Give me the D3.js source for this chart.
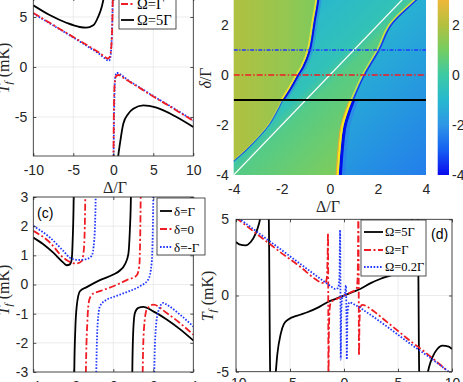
<!DOCTYPE html>
<html>
<head>
<meta charset="utf-8">
<script src="https://cdn.jsdelivr.net/npm/d3@7"></script>
<style>
  body { margin: 0; background: #fff; }
</style>
</head>
<body>
<script>
// ---------- data: panel (a), T_f (mK) vs Δ/Γ, branches split at the poles ----------
const aXTicks = [-10, -5, 0, 5, 10];
const aYTicks = [-5, 0, 5];
const aBlue = [
  [[-10, 5.35], [-7.5, 4.15], [-5, 2.95], [-3, 1.95], [-2, 1.45], [-1.2, 0.95], [-0.8, 0.7], [-0.55, 0.62], [-0.4, 0.85], [-0.25, 2], [-0.12, 5], [-0.03, 9.5]],
  [[0.03, -9.5], [0.12, -4], [0.22, -1.2], [0.4, -0.6], [0.6, -0.6], [1, -0.8], [2, -1.4], [3, -1.9], [5, -2.9], [7.5, -4.1], [10, -5.35]]
];
const aRed = [
  [[-10, 5.4], [-7.5, 4.2], [-5, 3.0], [-3, 2.05], [-2, 1.55], [-1.2, 1.1], [-0.7, 0.85], [-0.45, 1.0], [-0.3, 1.6], [-0.18, 3], [-0.08, 6], [-0.02, 9.5]],
  [[0.02, -9.5], [0.08, -4], [0.18, -1.6], [0.35, -0.9], [0.7, -0.8], [1.2, -1.05], [2, -1.45], [3, -1.95], [5, -2.95], [7.5, -4.15], [10, -5.4]]
];
const aBlack = [
  [[-10, 6.17], [-7.9, 5.17], [-5.8, 4.4], [-4.2, 4.0], [-3.4, 3.93], [-2.5, 4.17], [-1.9, 5.0], [-1.45, 6.0], [-1.2, 6.9], [-1.0, 8]],
  [[0.5, -10], [0.62, -8.9], [0.83, -7.67], [1.25, -5.67], [1.875, -4.67], [2.5, -4.17], [3.75, -3.83], [5.4, -4.07], [7.9, -5.0], [10, -6.0]]
];
const aLabels = ['\u03a9=0.2\u0393', '\u03a9=\u0393', '\u03a9=5\u0393'];

// ---------- data: panel (b), map of T_f over (Δ/Γ, δ/Γ) ----------
const bXTicks = [-4, -2, 0, 2, 4];
const bYTicks = [-4, -2, 0, 2];
const cbTicks = [-4, -2, 0, 2];
// resonance curves [Δ, δ], top to bottom
const bLeft = [[-0.42, 4.3], [-0.53, 3], [-0.67, 2.2], [-0.88, 1], [-1.15, 0.33], [-1.36, 0], [-1.65, -0.5], [-1.98, -1], [-2.55, -2], [-3.5, -3], [-4.1, -3.5]];
const bRight = [[4.3, 3.7], [3.55, 3], [2.5, 2], [2.0, 1], [1.39, 0], [0.92, -1], [0.57, -2], [0.44, -3], [0.36, -4.05], [0.34, -4.3]];
const bDiagonal = [[-4, -4], [4, 4]];
const bCuts = [1, 0, -1];
// field levels: left region along Δ, middle and right regions along u = Δ-δ
const fieldLeft = [[-4, 1.95], [-2, 1.55], [-0.4, 1.15]];
const fieldMiddle = [[-4, -1.05], [-0.4, -0.45], [0.4, 0.45], [4, 1.1]];
const fieldRight = [[0, -1.15], [8, -2.45]];
const cmapValues = [-4, -3, -2, -1, 0, 1, 2, 3, 4];
const cmapColors = ['#0b0bef', '#1560f2', '#2e96e6', '#27b8cf', '#3ccaa4', '#74cd62', '#b3c03f', '#efb83a', '#f9e024'];

// ---------- data: panel (c) ----------
const cXTicks = [-4, -2, 0, 2, 4];
const cYTicks = [-3, -2, -1, 0, 1, 2, 3];
const cBlack = [
  [[-4, 1.61], [-3.5, 1.38], [-3, 1.09], [-2.5, 0.75], [-2.33, 0.66], [-2.17, 0.69], [-2.08, 0.86], [-2.03, 1.55], [-1.98, 3.02], [-1.97, 4]],
  [[-1.955, -4], [-1.95, -2.99], [-1.9, -1.55], [-1.83, -0.75], [-1.67, -0.23], [-1.33, -0.09], [-0.67, 0.15], [0, 0.34], [0.33, 0.48], [0.58, 0.69], [0.75, 1.03], [0.83, 1.9], [0.88, 3.0], [0.89, 4]],
  [[0.945, -4], [0.95, -3], [1.0, -1.55], [1.08, -0.98], [1.25, -0.8], [1.5, -0.77], [2, -0.92], [2.67, -1.2], [3.33, -1.53], [4, -1.92]]
];
const cRed = [
  [[-4, 1.84], [-3.17, 1.44], [-2.5, 0.92], [-2.17, 0.77], [-1.83, 0.72], [-1.58, 0.8], [-1.47, 1.21], [-1.4, 3.02], [-1.39, 4]],
  [[-1.375, -4], [-1.37, -3], [-1.3, -1.32], [-1.2, -0.52], [-1, -0.31], [-0.67, -0.23], [0, -0.06], [0.67, 0.15], [1.17, 0.31], [1.3, 0.63], [1.37, 3.02], [1.38, 4]],
  [[1.465, -4], [1.47, -3], [1.53, -1.55], [1.67, -0.86], [2, -0.69], [2.67, -0.98], [3.33, -1.32], [4, -1.72]]
];
const cBlue = [
  [[-4, 2.01], [-3.17, 1.61], [-2.5, 1.15], [-2.17, 0.92], [-1.75, 0.84], [-1.42, 0.86], [-1.08, 0.98], [-0.95, 1.55], [-0.88, 3.02], [-0.87, 4]],
  [[-0.855, -4], [-0.85, -3], [-0.78, -1.32], [-0.67, -0.75], [-0.33, -0.52], [0, -0.43], [0.67, -0.26], [1.33, -0.06], [1.75, 0.17], [1.92, 0.75], [2.0, 3.02], [2.01, 4]],
  [[2.045, -4], [2.05, -3], [2.12, -1.55], [2.25, -0.92], [2.5, -0.63], [2.67, -0.69], [3.33, -1.03], [4, -1.44]]
];
const cLabels = ['\u03b4=\u0393', '\u03b4=0', '\u03b4=-\u0393'];

// ---------- data: panel (d) ----------
const dXTicks = [-10, -5, 0, 5, 10];
const dYTicks = [-5, 0, 5];
const dBlack = [[[-10, 3.51], [-9.7, 3.36], [-9.1, 3.29], [-8.64, 3.51], [-8.18, 4.06], [-7.87, 4.71], [-7.6, 5.6], [-7.25, 6.8], [-7.0, 6.0], [-6.93, 3], [-6.9, 0], [-6.87, -3], [-6.8, -6], [-6.55, -6.8], [-6.35, -5.3], [-6.17, -3.84], [-5.86, -2.52], [-5.56, -1.86], [-5.09, -1.54], [-4.32, -1.32], [-3.4, -1.1], [-2.47, -0.81], [-1.54, -0.44], [-0.77, -0.22], [0, 0], [0.77, 0.22], [1.54, 0.44], [2.47, 0.81], [3.4, 1.1], [4.32, 1.32], [5.09, 1.54], [5.56, 1.86], [5.86, 2.52], [6.17, 3.84], [6.35, 5.3], [6.55, 6.8], [6.8, 6], [6.87, 3], [6.9, 0], [6.93, -3], [7.0, -6], [7.25, -6.8], [7.6, -5.6], [7.87, -4.71], [8.18, -4.06], [8.64, -3.51], [9.1, -3.29], [9.7, -3.36], [10, -3.51]]];
const dRed = [[[-10, 5.1], [-8, 4.0], [-6, 2.9], [-4, 1.85], [-2.6, 1.05], [-2.1, 0.85], [-1.75, 0.8], [-1.6, 1.1], [-1.52, 2.5], [-1.48, 4.1], [-1.46, 0], [-1.44, -6], [-1.4, -2.5], [-1.32, -0.8], [-1.2, -0.45], [-0.6, -0.2], [0, 0], [0.6, 0.2], [1.15, 0.42], [1.25, 1.0], [1.3, 3], [1.33, 6], [1.36, 1], [1.39, -3.95], [1.43, -1.8], [1.52, -0.75], [1.7, -0.62], [2.2, -0.75], [2.7, -1.0], [4, -1.75], [6, -2.9], [8, -4.0], [9.72, -5.04]]];
const dBlue = [[[-10, 5.2], [-8, 4.15], [-6, 3.1], [-4, 2.05], [-2, 1.0], [-1.2, 0.6], [-0.8, 0.42], [-0.55, 0.5], [-0.42, 1.2], [-0.36, 4.3], [-0.33, 0.5], [-0.3, -4.2], [-0.25, -1.0], [-0.15, -0.1], [0, 0], [0.12, 0.3], [0.18, 0.66], [0.22, -1], [0.26, -4.2], [0.32, -1.2], [0.5, -0.45], [1, -0.6], [2, -1.05], [4, -2.05], [6, -3.1], [8, -4.1], [9.7, -5.0]]];
const dLabels = ['\u03a9=5\u0393', '\u03a9=\u0393', '\u03a9=0.2\u0393'];

// ---------- styles ----------
const black = { color: '#000', width: 1.8, dash: null };
const red = { color: '#f01c24', width: 1.8, dash: '7,2.5,2,2.5' };
const blue = { color: '#2238ff', width: 1.8, dash: '1.6,1.6' };
const axisColor = '#262626';
const serif = 'Liberation Serif, DejaVu Serif, serif';

const svg = d3.select('body').append('svg')
  .attr('width', 463).attr('height', 382)
  .style('font-family', 'Liberation Sans, Arial, sans-serif');
const defs = svg.append('defs');

function styleAxis(sel) {
  sel.select('.domain').remove();
  sel.selectAll('line').attr('stroke', axisColor).attr('stroke-width', 0.8);
  sel.selectAll('text').attr('fill', axisColor).attr('font-size', 14);
}

function linePanel(p) {
  const x = d3.scaleLinear().domain(p.xDomain).range(p.xRange);
  const y = d3.scaleLinear().domain(p.yDomain).range(p.yRange);
  const [x0, x1] = p.xRange;
  const [y1, y0] = p.yRange;
  const g = svg.append('g');
  const id = 'clip-' + p.name;
  defs.append('clipPath').attr('id', id).append('rect')
    .attr('x', x0).attr('y', y0).attr('width', x1 - x0).attr('height', y1 - y0);

  // grid
  g.append('g').selectAll('line').data(p.xTicks).join('line')
    .attr('x1', d => x(d)).attr('x2', d => x(d)).attr('y1', y0).attr('y2', y1)
    .attr('stroke', '#e4e4e4').attr('stroke-width', 0.7);
  g.append('g').selectAll('line').data(p.yTicks).join('line')
    .attr('y1', d => y(d)).attr('y2', d => y(d)).attr('x1', x0).attr('x2', x1)
    .attr('stroke', '#e4e4e4').attr('stroke-width', 0.7);

  // curves
  const line = d3.line().x(d => x(d[0])).y(d => y(d[1])).curve(d3.curveMonotoneX);
  const sg = g.append('g').attr('clip-path', `url(#${id})`);
  p.series.forEach(s => {
    s.data.forEach(branch => {
      sg.append('path').attr('d', line(branch)).attr('fill', 'none')
        .attr('stroke', s.style.color).attr('stroke-width', s.style.width)
        .attr('stroke-dasharray', s.style.dash);
    });
  });

  // box and inward ticks
  g.append('rect').attr('x', x0).attr('y', y0).attr('width', x1 - x0).attr('height', y1 - y0)
    .attr('fill', 'none').attr('stroke', axisColor).attr('stroke-width', 0.8);
  g.append('g').attr('transform', `translate(0,${y1})`)
    .call(d3.axisBottom(x).tickValues(p.xTicks).tickFormat(d => String(d))
      .tickSizeInner(-3).tickSizeOuter(0).tickPadding(p.xPad))
    .call(styleAxis);
  g.append('g').attr('transform', `translate(${x0},0)`)
    .call(d3.axisLeft(y).tickValues(p.yTicks).tickFormat(d => String(d))
      .tickSizeInner(-3).tickSizeOuter(0).tickPadding(p.yPad))
    .call(styleAxis);
  g.append('g').attr('transform', `translate(0,${y0})`)
    .call(d3.axisTop(x).tickValues(p.xTicks).tickFormat('').tickSizeInner(-3).tickSizeOuter(0))
    .call(styleAxis);
  g.append('g').attr('transform', `translate(${x1},0)`)
    .call(d3.axisRight(y).tickValues(p.yTicks).tickFormat('').tickSizeInner(-3).tickSizeOuter(0))
    .call(styleAxis);

  // legend
  if (p.legend) {
    const L = p.legend;
    const lg = g.append('g');
    lg.append('rect').attr('x', L.x).attr('y', L.y).attr('width', L.w).attr('height', L.h)
      .attr('fill', '#fff').attr('stroke', axisColor).attr('stroke-width', 0.8);
    L.labels.forEach((lab, i) => {
      const s = p.series[L.order[i]].style;
      const yy = L.rows[i];
      lg.append('line').attr('x1', L.lx0).attr('x2', L.lx1).attr('y1', yy).attr('y2', yy)
        .attr('stroke', s.color).attr('stroke-width', s.width).attr('stroke-dasharray', s.dash);
      lg.append('text').attr('x', L.tx).attr('y', yy).attr('dy', '0.35em')
        .attr('font-family', serif).attr('font-size', L.size).attr('fill', '#000').text(lab);
    });
  }
  return { x, y, g };
}

function tfLabel(xp, yp) {
  const t = svg.append('text').attr('transform', `translate(${xp},${yp}) rotate(-90)`)
    .attr('text-anchor', 'middle').attr('font-family', serif).attr('font-size', 16).attr('fill', axisColor);
  t.append('tspan').attr('font-style', 'italic').text('T');
  t.append('tspan').attr('font-style', 'italic').attr('font-size', 11).attr('dy', 3).text('f');
  t.append('tspan').attr('dy', -3).text(' (mK)');
}

function deltaLabel(xp, yp) {
  svg.append('text').attr('x', xp).attr('y', yp).attr('text-anchor', 'middle')
    .attr('font-family', serif).attr('font-size', 16).attr('fill', axisColor).text('\u0394/\u0393');
}

// ---------- panel (a) ----------
linePanel({
  name: 'a', xDomain: [-10, 10], xRange: [33.3, 193.3], yDomain: [-8.9, 6.9], yRange: [156, -2],
  xTicks: aXTicks, yTicks: aYTicks, xPad: 9, yPad: 6,
  series: [{ data: aBlue, style: blue }, { data: aRed, style: red }, { data: aBlack, style: black }],
  legend: { x: 119, y: -22, w: 57, h: 51, rows: [-12, 4, 20], order: [0, 1, 2], labels: aLabels,
    lx0: 121, lx1: 134, tx: 137, size: 14.5 }
});
tfLabel(9, 68);
deltaLabel(115, 193);

// ---------- panel (b) ----------
const bx = d3.scaleLinear().domain([-4, 4]).range([233.7, 426]);
const by = d3.scaleLinear().domain([-4, 4]).range([175, -25]);
const color = d3.scaleLinear().domain(cmapValues).range(cmapColors).clamp(true);

// gradient along a data-space segment p1 -> p2, stops given as [t, value] with t in [t0, t1]
function fieldGradient(id, stops, p1, p2, t0, t1) {
  const lgr = defs.append('linearGradient').attr('id', id).attr('gradientUnits', 'userSpaceOnUse')
    .attr('x1', bx(p1[0])).attr('y1', by(p1[1])).attr('x2', bx(p2[0])).attr('y2', by(p2[1]));
  stops.forEach(([t, v]) => lgr.append('stop').attr('offset', (t - t0) / (t1 - t0)).attr('stop-color', color(v)));
}
fieldGradient('gLeft', fieldLeft, [-4, 0], [0, 0], -4, 0);
fieldGradient('gMid', fieldMiddle, [-4, 4], [4, -4], -8, 8);
fieldGradient('gRight', fieldRight, [-4, 4], [4, -4], -8, 8);

defs.append('clipPath').attr('id', 'clip-b').append('rect')
  .attr('x', bx(-4)).attr('y', by(4)).attr('width', bx(4) - bx(-4)).attr('height', by(-4) - by(4));

const bg = svg.append('g').attr('clip-path', 'url(#clip-b)');
const poly = d3.line().x(d => bx(d[0])).y(d => by(d[1]));
const smooth = d3.line().x(d => bx(d[0])).y(d => by(d[1])).curve(d3.curveCatmullRom);
const lastL = bLeft[bLeft.length - 1];
const polyA = [...bLeft, [-4.3, lastL[1]], [-4.3, 4.3], [bLeft[0][0], 4.3]];
const polyM = [...bLeft, [-4.3, lastL[1]], [-4.3, -4.3], ...bRight.slice().reverse(), [4.3, 4.3]];
const polyD = [...bRight, [4.3, -4.3]];
bg.append('path').attr('d', poly(polyA) + 'Z').attr('fill', 'url(#gLeft)');
bg.append('path').attr('d', poly(polyM) + 'Z').attr('fill', 'url(#gMid)');
bg.append('path').attr('d', poly(polyD) + 'Z').attr('fill', 'url(#gRight)');

function band(data, col, w, dx, op) {
  bg.append('path').attr('d', smooth(data)).attr('fill', 'none')
    .attr('stroke', col).attr('stroke-width', w).attr('opacity', op || 1)
    .attr('transform', `translate(${dx},0)`);
}
// left resonance: strong above δ=-1, thin below
const lUp = bLeft.filter(d => d[1] >= -1.2);
const lLow = bLeft.filter(d => d[1] <= -0.9);
band(lUp, '#2f7ff0', 3, 3, 0.5);
band(lUp, '#0a10e0', 2, 1.2);
band(lUp, '#f0e030', 1.6, -1.1);
band(lLow, '#2060e0', 1.1, 0.6);
band(lLow, '#c8d040', 0.9, -0.8);
// right resonance: thin in the upper part, broad below δ≈-1
const rUp = bRight.filter(d => d[1] >= -1.2);
const rLow = bRight.filter(d => d[1] <= -0.8);
band(rUp, '#1838e8', 1.6, 1.1);
band(rUp, '#d8e040', 1.3, -1);
band(rLow, '#2f7ff0', 5, 4.2, 0.6);
band(rLow, '#0010e8', 3.2, 1.7);
band(rLow, '#f8e81c', 2.3, -1);
band(rLow, '#f0a830', 1, -2.5);

bg.append('path').attr('d', poly(bDiagonal)).attr('stroke', '#fff').attr('stroke-width', 1.2).attr('fill', 'none');
const cutStyles = [
  { color: '#2238ff', width: 1.6, dash: '4,1.5,1.2,1.5' },
  { color: '#f01c24', width: 1.6, dash: '6,2,1.5,2' },
  { color: '#000', width: 2, dash: null }
];
bg.selectAll('.cut').data(bCuts).join('line')
  .attr('x1', bx(-4)).attr('x2', bx(4)).attr('y1', d => by(d)).attr('y2', d => by(d))
  .attr('stroke', (d, i) => cutStyles[i].color).attr('stroke-width', (d, i) => cutStyles[i].width)
  .attr('stroke-dasharray', (d, i) => cutStyles[i].dash);

svg.append('g').attr('transform', `translate(0,${by(-4)})`)
  .call(d3.axisBottom(bx).tickValues(bXTicks).tickFormat(d => String(d)).tickSize(0).tickPadding(9))
  .call(styleAxis);
svg.append('g').attr('transform', `translate(${bx(-4)},0)`)
  .call(d3.axisLeft(by).tickValues(bYTicks).tickFormat(d => String(d)).tickSize(0).tickPadding(5))
  .call(styleAxis);
deltaLabel(328, 212);
const dl = svg.append('text').attr('transform', `translate(211,78) rotate(-90)`)
  .attr('text-anchor', 'middle').attr('font-family', serif).attr('font-size', 16).attr('fill', axisColor);
dl.append('tspan').attr('font-style', 'italic').text('\u03b4');
dl.append('tspan').text('/\u0393');

// colorbar
const cbx0 = 437.7, cbw = 11.3;
const cbg = defs.append('linearGradient').attr('id', 'cbar').attr('x1', 0).attr('y1', 1).attr('x2', 0).attr('y2', 0);
cmapValues.forEach((v, i) => cbg.append('stop').attr('offset', (v + 4) / 8).attr('stop-color', cmapColors[i]));
svg.append('rect').attr('x', cbx0).attr('y', by(4)).attr('width', cbw).attr('height', by(-4) - by(4))
  .attr('fill', 'url(#cbar)');
svg.append('g').attr('transform', `translate(${cbx0 + cbw},0)`)
  .call(d3.axisRight(by).tickValues(cbTicks).tickFormat(d => String(d)).tickSize(0).tickPadding(3))
  .call(styleAxis);

// ---------- panel (c) ----------
linePanel({
  name: 'c', xDomain: [-4, 4], xRange: [33.3, 193.3], yDomain: [-3, 3], yRange: [372, 197],
  xTicks: cXTicks, yTicks: cYTicks, xPad: 9, yPad: 5,
  series: [{ data: cBlack, style: black }, { data: cRed, style: red }, { data: cBlue, style: blue }],
  legend: { x: 157, y: 198, w: 48, h: 57, rows: [211, 229, 247], order: [0, 1, 2], labels: cLabels,
    lx0: 160, lx1: 172, tx: 174, size: 13 }
});
svg.append('text').attr('x', 37).attr('y', 213).attr('dy', '0.35em').attr('font-size', 14).attr('fill', '#000').text('(c)');
tfLabel(9, 290);

// ---------- panel (d) ----------
linePanel({
  name: 'd', xDomain: [-10, 10], xRange: [236, 452], yDomain: [-5, 5], yRange: [371.7, 219.3],
  xTicks: dXTicks, yTicks: dYTicks, xPad: 6, yPad: 7,
  series: [{ data: dBlack, style: black }, { data: dRed, style: red }, { data: dBlue, style: blue }],
  legend: { x: 361, y: 220, w: 65, h: 56, rows: [232, 250, 267], order: [0, 1, 2], labels: dLabels,
    lx0: 364, lx1: 383, tx: 385, size: 12.5 }
});
svg.append('text').attr('x', 431).attr('y', 234).attr('dy', '0.35em').attr('font-size', 14).attr('fill', '#000').text('(d)');
tfLabel(213, 296);
</script>
</body>
</html>
